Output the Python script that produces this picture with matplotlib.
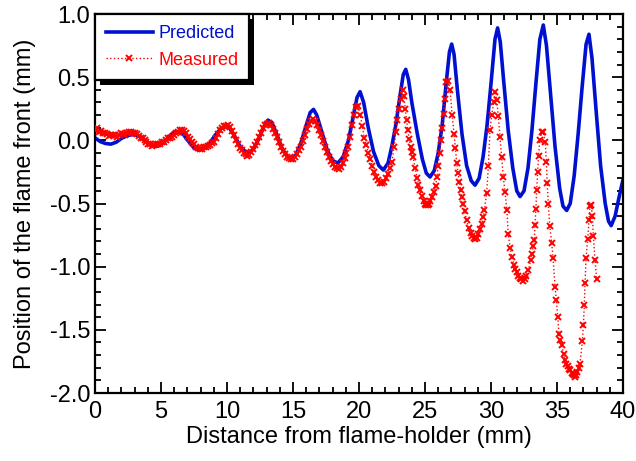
import matplotlib
matplotlib.use("Agg")
from matplotlib import pyplot as plt
from matplotlib.ticker import MultipleLocator, FormatStrFormatter
from matplotlib.patches import Rectangle
from matplotlib.transforms import IdentityTransform

plt.rcParams['font.family'] = ['Liberation Sans', 'DejaVu Sans']

# predicted flame front
pred_x = [0.0, 0.4, 0.8, 1.2, 1.6, 2.0, 2.4, 2.8, 3.2, 3.6, 4.0, 4.4, 4.8, 5.2, 5.6,
          6.0, 6.3, 6.7, 7.1, 7.5, 7.9, 8.3, 8.7, 9.1, 9.5, 9.9, 10.2, 10.6, 11.0,
          11.4, 11.7, 12.0, 12.4, 12.8, 13.1, 13.4, 13.8, 14.2, 14.6, 14.9, 15.2,
          15.6, 16.0, 16.3, 16.55, 16.8, 17.2, 17.6, 18.0, 18.4, 18.8, 19.2, 19.6,
          19.85, 20.08, 20.35, 20.7, 21.1, 21.5, 21.84, 22.2, 22.5, 22.8, 23.1,
          23.35, 23.54, 23.75, 24.0, 24.4, 24.8, 25.1, 25.38, 25.7, 26.0, 26.3,
          26.6, 26.85, 27.02, 27.2, 27.45, 27.8, 28.15, 28.5, 28.79, 29.1, 29.4,
          29.7, 30.0, 30.3, 30.5, 30.7, 30.95, 31.3, 31.65, 31.95, 32.2, 32.5,
          32.8, 33.1, 33.4, 33.7, 33.96, 34.2, 34.5, 34.85, 35.2, 35.45, 35.73,
          36.0, 36.3, 36.6, 36.9, 37.2, 37.42, 37.65, 37.95, 38.3, 38.65, 38.9,
          39.1, 39.4, 39.7, 40.0]
pred_y = [0.02, -0.01, -0.025, -0.03, -0.015, 0.015, 0.035, 0.045, 0.04, 0.015,
          -0.02, -0.045, -0.045, -0.02, 0.03, 0.065, 0.07, 0.045, -0.01, -0.06,
          -0.075, -0.06, -0.02, 0.04, 0.09, 0.11, 0.095, 0.03, -0.05, -0.09,
          -0.095, -0.07, 0.01, 0.11, 0.16, 0.14, 0.04, -0.07, -0.13, -0.14, -0.12,
          -0.02, 0.12, 0.22, 0.245, 0.2, 0.06, -0.08, -0.16, -0.18, -0.13, 0.0,
          0.21, 0.34, 0.385, 0.3, 0.1, -0.09, -0.2, -0.235, -0.18, -0.04, 0.13,
          0.35, 0.52, 0.562, 0.48, 0.3, 0.06, -0.15, -0.26, -0.29, -0.24, -0.1,
          0.12, 0.45, 0.7, 0.762, 0.68, 0.4, 0.05, -0.2, -0.32, -0.355, -0.3,
          -0.13, 0.12, 0.45, 0.8, 0.89, 0.78, 0.48, 0.08, -0.22, -0.4, -0.445,
          -0.4, -0.22, 0.08, 0.45, 0.8, 0.913, 0.75, 0.38, -0.05, -0.38, -0.52,
          -0.555, -0.5, -0.28, 0.05, 0.42, 0.76, 0.84, 0.65, 0.25, -0.2, -0.5,
          -0.64, -0.675, -0.6, -0.45, -0.31]

# measured flame front
meas_x = [0.0, 0.15, 0.3, 0.45, 0.6, 0.75, 0.9, 1.05, 1.2, 1.35, 1.5, 1.65, 1.8,
          1.95, 2.1, 2.25, 2.4, 2.55, 2.7, 2.85, 3.0, 3.15, 3.3, 3.45, 3.6, 3.75,
          3.9, 4.05, 4.2, 4.35, 4.5, 4.65, 4.8, 4.95, 5.1, 5.25, 5.4, 5.55, 5.7,
          5.85, 6.0, 6.15, 6.3, 6.45, 6.6, 6.75, 6.9, 7.05, 7.2, 7.35, 7.5, 7.65,
          7.8, 7.95, 8.1, 8.25, 8.4, 8.55, 8.7, 8.85, 9.0, 9.15, 9.3, 9.45, 9.6,
          9.75, 9.9, 10.05, 10.2, 10.35, 10.5, 10.65, 10.8, 10.95, 11.1, 11.25,
          11.4, 11.55, 11.7, 11.85, 12.0, 12.15, 12.3, 12.45, 12.6, 12.75, 12.9,
          13.05, 13.2, 13.35, 13.5, 13.65, 13.8, 13.95, 14.1, 14.25, 14.4, 14.55,
          14.7, 14.85, 15.0, 15.15, 15.3, 15.45, 15.6, 15.75, 15.9, 16.05, 16.2,
          16.35, 16.5, 16.65, 16.8, 16.95, 17.1, 17.25, 17.4, 17.55, 17.7, 17.85,
          18.0, 18.15, 18.3, 18.45, 18.6, 18.75, 18.9, 19.05, 19.2, 19.35, 19.5,
          19.65, 19.8, 19.95, 20.1, 20.25, 20.4, 20.55, 20.7, 20.85, 21.0, 21.15,
          21.3, 21.45, 21.6, 21.75, 21.9, 22.05, 22.2, 22.35, 22.5, 22.65, 22.8,
          22.9, 23.0, 23.15, 23.3, 23.4, 23.5, 23.6, 23.7, 23.8, 23.9, 24.0, 24.1,
          24.25, 24.4, 24.5, 24.6, 24.75, 24.9, 25.0, 25.1, 25.2, 25.3, 25.4,
          25.5, 25.65, 25.8, 25.9, 26.0, 26.1, 26.2, 26.3, 26.4, 26.5, 26.6,
          26.75, 26.9, 27.05, 27.2, 27.3, 27.4, 27.5, 27.6, 27.7, 27.8, 27.9,
          28.0, 28.15, 28.3, 28.45, 28.55, 28.7, 28.8, 28.9, 29.05, 29.2, 29.3,
          29.4, 29.5, 29.67, 29.8, 29.92, 30.05, 30.2, 30.3, 30.43, 30.55, 30.68,
          30.8, 30.93, 31.06, 31.2, 31.3, 31.45, 31.57, 31.75, 31.85, 31.95,
          32.05, 32.2, 32.3, 32.45, 32.55, 32.65, 32.83, 33.0, 33.08, 33.2, 33.28,
          33.33, 33.4, 33.46, 33.53, 33.6, 33.7, 33.84, 33.96, 34.1, 34.2, 34.25,
          34.34, 34.45, 34.6, 34.7, 34.85, 34.95, 35.05, 35.15, 35.25, 35.35,
          35.5, 35.6, 35.7, 35.8, 35.9, 36.0, 36.1, 36.2, 36.3, 36.36, 36.45,
          36.55, 36.65, 36.74, 36.92, 37.0, 37.07, 37.12, 37.2, 37.33, 37.42,
          37.5, 37.58, 37.68, 37.75, 37.88, 38.0]
meas_y = [0.08, 0.095, 0.07, 0.075, 0.06, 0.055, 0.05, 0.035, 0.04, 0.045, 0.04,
          0.03, 0.045, 0.055, 0.05, 0.045, 0.06, 0.07, 0.065, 0.06, 0.055, 0.05,
          0.035, 0.02, 0.015, 0.0, -0.01, -0.025, -0.03, -0.045, -0.04, -0.03,
          -0.03, -0.025, -0.015, -0.01, 0.0, 0.015, 0.02, 0.03, 0.045, 0.06, 0.07,
          0.08, 0.085, 0.075, 0.055, 0.03, 0.01, -0.01, -0.03, -0.05, -0.06, -0.07,
          -0.065, -0.055, -0.05, -0.045, -0.035, -0.02, -0.01, 0.02, 0.05, 0.08,
          0.095, 0.11, 0.115, 0.12, 0.105, 0.075, 0.04, 0.0, -0.03, -0.06, -0.08,
          -0.1, -0.11, -0.12, -0.115, -0.095, -0.07, -0.04, -0.01, 0.025, 0.06,
          0.095, 0.12, 0.13, 0.135, 0.12, 0.09, 0.06, 0.03, -0.01, -0.05, -0.085,
          -0.11, -0.13, -0.14, -0.15, -0.145, -0.13, -0.11, -0.08, -0.05, -0.005,
          0.04, 0.09, 0.13, 0.155, 0.165, 0.15, 0.12, 0.08, 0.04, -0.005, -0.05,
          -0.09, -0.13, -0.16, -0.19, -0.21, -0.22, -0.225, -0.21, -0.18, -0.14,
          -0.1, -0.05, 0.03, 0.12, 0.2, 0.265, 0.27, 0.2, 0.11, 0.02, -0.04, -0.1,
          -0.15, -0.2, -0.25, -0.29, -0.315, -0.335, -0.34, -0.33, -0.3, -0.27,
          -0.22, -0.17, -0.05, 0.07, 0.16, 0.25, 0.33, 0.4, 0.35, 0.25, 0.16,
          0.08, 0.01, -0.05, -0.09, -0.13, -0.22, -0.3, -0.35, -0.39, -0.44,
          -0.48, -0.5, -0.51, -0.515, -0.5, -0.48, -0.45, -0.41, -0.36, -0.29,
          -0.2, -0.1, 0.0, 0.1, 0.21, 0.33, 0.46, 0.47, 0.4, 0.2, 0.05, -0.06,
          -0.18, -0.26, -0.33, -0.39, -0.45, -0.5, -0.56, -0.63, -0.69, -0.73,
          -0.76, -0.775, -0.78, -0.77, -0.74, -0.7, -0.66, -0.61, -0.55, -0.42,
          -0.2, 0.08, 0.2, 0.3, 0.385, 0.32, 0.19, 0.03, -0.13, -0.29, -0.41,
          -0.55, -0.74, -0.85, -0.92, -0.99, -1.02, -1.04, -1.07, -1.09, -1.1,
          -1.11, -1.1, -1.07, -1.03, -0.95, -0.9, -0.84, -0.79, -0.67, -0.54,
          -0.39, -0.25, -0.12, 0.0, 0.07, 0.065, -0.01, -0.17, -0.34, -0.5, -0.68,
          -0.815, -0.93, -1.16, -1.26, -1.4, -1.53, -1.58, -1.62, -1.69, -1.74,
          -1.77, -1.79, -1.81, -1.82, -1.84, -1.85, -1.86, -1.87, -1.86, -1.83,
          -1.8, -1.77, -1.59, -1.46, -1.3, -1.13, -0.93, -0.78, -0.63, -0.52,
          -0.51, -0.6, -0.76, -0.95, -1.1]

blue = '#0010d0'
red = '#ff0000'

fig = plt.figure(figsize=(6.36, 4.61), dpi=100)
ax = fig.add_axes([0.1494, 0.1475, 0.8302, 0.8221])

ax.plot(pred_x, pred_y, color=blue, lw=2.6, label='Predicted', zorder=2)
ax.plot(meas_x, meas_y, color=red, lw=1.0, ls=':', marker='x', ms=5,
        mew=1.4, label='Measured', zorder=3)

ax.set_xlim(0, 40)
ax.set_ylim(-2.0, 1.0)
ax.xaxis.set_major_locator(MultipleLocator(5))
ax.xaxis.set_minor_locator(MultipleLocator(1))
ax.yaxis.set_major_locator(MultipleLocator(0.5))
ax.yaxis.set_minor_locator(MultipleLocator(0.1))
ax.yaxis.set_major_formatter(FormatStrFormatter('%.1f'))
ax.tick_params(which='both', direction='in', top=True, right=True, width=1.3)
ax.tick_params(which='major', length=8, labelsize=17)
ax.tick_params(axis='x', which='major', pad=6)
ax.tick_params(which='minor', length=4)
for s in ax.spines.values():
    s.set_linewidth(1.6)

ax.set_xlabel('Distance from flame-holder (mm)', fontsize=17, labelpad=2)
ax.set_ylabel('Position of the flame front (mm)', fontsize=17, labelpad=10)

leg = ax.legend(loc='upper left', bbox_to_anchor=(0, 1), borderaxespad=0,
                fontsize=13, handlelength=2.6, handletextpad=0.3,
                fancybox=False, numpoints=1, framealpha=1,
                borderpad=0.6, labelspacing=0.55)
leg.set_zorder(6)
leg.get_frame().set_edgecolor('black')
leg.get_frame().set_linewidth(1.6)
for t, c in zip(leg.get_texts(), [blue, red]):
    t.set_color(c)

# black drop shadow under the legend box
fig.canvas.draw()
bb = leg.get_frame().get_window_extent()
ax.add_patch(Rectangle((bb.x0 + 5, bb.y0 - 5), bb.width, bb.height,
                       transform=IdentityTransform(), facecolor='black',
                       edgecolor='none', clip_on=False, zorder=5.5))

fig.savefig('out.png', dpi=100)
